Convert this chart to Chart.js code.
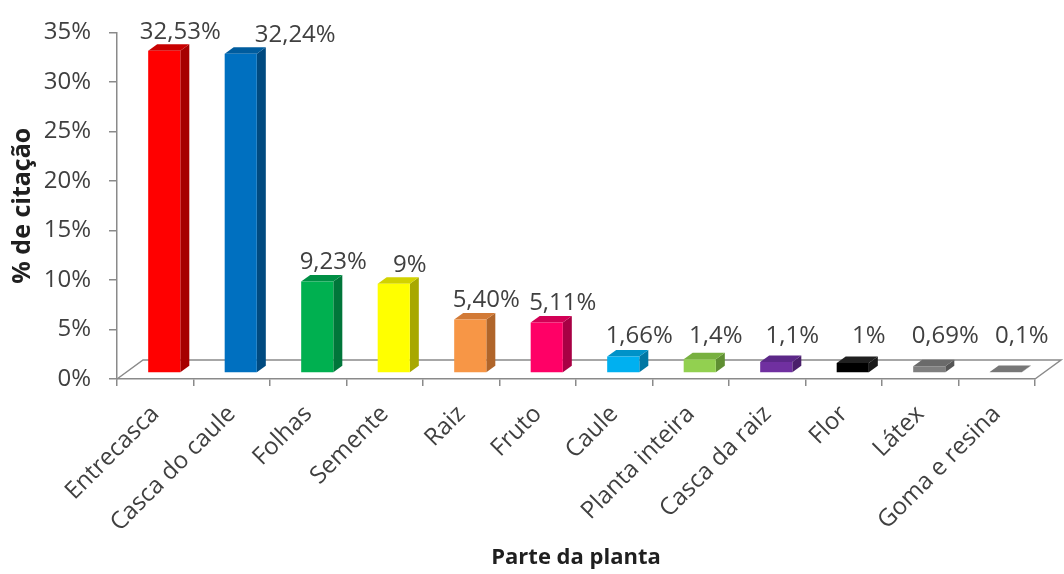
<!DOCTYPE html>
<html>
<head>
<meta charset="utf-8">
<script src="https://cdn.jsdelivr.net/npm/chart.js@4.4.1/dist/chart.umd.min.js"></script>
<style>
  html, body { margin: 0; padding: 0; background: #fff; }
  #wrap { width: 1064px; height: 574px; }
</style>
</head>
<body>
<div id="wrap"><canvas id="plantChart" width="1064" height="574"></canvas></div>
<script>
const parts = ['Entrecasca', 'Casca do caule', 'Folhas', 'Semente', 'Raiz', 'Fruto', 'Caule',
               'Planta inteira', 'Casca da raiz', 'Flor', 'Látex', 'Goma e resina'];
const citations = [32.53, 32.24, 9.23, 9, 5.40, 5.11, 1.66, 1.4, 1.1, 1, 0.69, 0.1];
const citationDecimals = [2, 2, 2, 0, 2, 2, 2, 1, 1, 0, 2, 1];
const yTicks = [0, 5, 10, 15, 20, 25, 30, 35];

const frontColors = ['#ff0000', '#0070c0', '#00b050', '#ffff00', '#f79646', '#ff0066',
                     '#00b0f0', '#92d050', '#7030a0', '#000000', '#7f7f7f', '#8c8c8c'];
const sideColors  = ['#a60000', '#004a80', '#00763a', '#a8a800', '#b0652a', '#a80044',
                     '#0077a3', '#5f8f32', '#4a1f6b', '#1a1a1a', '#555555', '#666666'];
const topColors   = ['#c80000', '#005c9e', '#008f45', '#d2d200', '#d27a36', '#d20055',
                     '#0092c8', '#78b040', '#5c2888', '#202020', '#6a6a6a', '#777777'];

const axisColor = '#8a8a8a';
const textColor = '#404040';
const FONT = '"Open Sans", "DejaVu Sans", sans-serif';

// 3D look: box depth, how far the bars sit back on the floor, floor depth
const DEPTH_X = 9, DEPTH_Y = -6.5;
const LIFT_X = 9, LIFT_Y = -6;
const FLOOR_X = 26, FLOOR_Y = -19;

function fillPoly(ctx, pts, color) {
  ctx.fillStyle = color;
  ctx.beginPath();
  ctx.moveTo(pts[0][0], pts[0][1]);
  for (let k = 1; k < pts.length; k++) ctx.lineTo(pts[k][0], pts[k][1]);
  ctx.closePath();
  ctx.fill();
}

function labelText(i) {
  return citations[i].toFixed(citationDecimals[i]).replace('.', ',') + '%';
}

const bars3d = {
  id: 'bars3d',
  beforeDatasetsDraw(chart) {
    const {ctx, chartArea: a} = chart;
    ctx.save();
    ctx.strokeStyle = axisColor;
    ctx.lineWidth = 1.5;
    ctx.beginPath();
    ctx.moveTo(a.left, a.bottom);
    ctx.lineTo(a.left + FLOOR_X, a.bottom + FLOOR_Y);
    ctx.lineTo(a.right + FLOOR_X, a.bottom + FLOOR_Y);
    ctx.lineTo(a.right, a.bottom);
    ctx.stroke();
    ctx.restore();
  },
  beforeDatasetDraw() {
    return false;
  },
  afterDatasetsDraw(chart) {
    const {ctx, chartArea: a} = chart;
    const meta = chart.getDatasetMeta(0);
    ctx.save();
    meta.data.forEach((bar, i) => {
      const {x, y, base, width} = bar.getProps(['x', 'y', 'base', 'width'], true);
      const l = x - width / 2 + LIFT_X, r = x + width / 2 + LIFT_X;
      const t = y + LIFT_Y, b = base + LIFT_Y;
      fillPoly(ctx, [[r, t], [r + DEPTH_X, t + DEPTH_Y], [r + DEPTH_X, b + DEPTH_Y], [r, b]], sideColors[i]);
      fillPoly(ctx, [[l, t], [r, t], [r + DEPTH_X, t + DEPTH_Y], [l + DEPTH_X, t + DEPTH_Y]], topColors[i]);
      fillPoly(ctx, [[l, t], [r, t], [r, b], [l, b]], frontColors[i]);
    });

    // value labels, nudged right when they would run into the previous one
    ctx.font = '24px ' + FONT;
    ctx.fillStyle = textColor;
    ctx.textAlign = 'center';
    ctx.textBaseline = 'middle';
    let prev = null;
    meta.data.forEach((bar, i) => {
      const {x, y} = bar.getProps(['x', 'y'], true);
      const txt = labelText(i);
      const w = ctx.measureText(txt).width;
      let cx = x + LIFT_X + 16;
      const cy = Math.min(y + LIFT_Y - 19, a.bottom - 43);
      if (prev && cx - w / 2 < prev.right + 4 && Math.abs(cy - prev.cy) < 28) {
        cx = prev.right + 34 + w / 2;
      }
      ctx.fillText(txt, cx, cy);
      prev = {right: cx + w / 2, cy};
    });
    ctx.restore();
  }
};

const ctx = document.getElementById('plantChart').getContext('2d');
new Chart(ctx, {
  type: 'bar',
  data: {
    labels: parts,
    datasets: [{
      label: '% de citação',
      data: citations,
      backgroundColor: frontColors,
      categoryPercentage: 0.84,
      barPercentage: 0.5
    }]
  },
  options: {
    responsive: false,
    animation: false,
    events: [],
    layout: { padding: { top: 25, right: 29, left: 0, bottom: 0 } },
    plugins: {
      legend: { display: false },
      tooltip: { enabled: false }
    },
    scales: {
      x: {
        offset: true,
        grid: { offset: true, drawOnChartArea: false, drawTicks: true, tickLength: 7, color: axisColor, lineWidth: 1.5 },
        border: { color: axisColor, width: 1.5 },
        ticks: {
          minRotation: 45, maxRotation: 45, autoSkip: false, padding: 14,
          color: textColor, font: { family: FONT, size: 24 }
        },
        title: {
          display: true, text: 'Parte da planta', color: '#1f1f1f',
          font: { family: FONT, size: 22, weight: 'bold' }, padding: { top: 0, bottom: 3 }
        },
        afterFit(scale) { scale.height = 195; }
      },
      y: {
        min: 0, max: 35,
        afterBuildTicks(scale) { scale.ticks = yTicks.map(v => ({ value: v })); },
        grid: { drawOnChartArea: false, drawTicks: true, tickLength: 8, color: axisColor, lineWidth: 1.5 },
        border: { color: axisColor, width: 1.5 },
        ticks: {
          padding: 18, color: textColor, font: { family: FONT, size: 24 },
          callback: v => v + '%'
        },
        title: {
          display: true, text: '% de citação', color: '#1f1f1f',
          font: { family: FONT, size: 25, weight: 'bold' }, padding: { top: 8, bottom: 0 }
        },
        afterFit(scale) { scale.width = 117; }
      }
    }
  },
  plugins: [bars3d]
});
</script>
</body>
</html>
